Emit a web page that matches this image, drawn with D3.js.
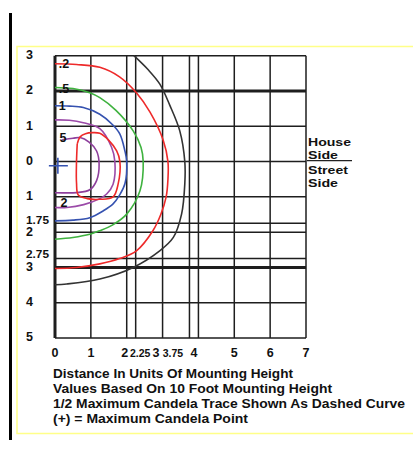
<!DOCTYPE html>
<html><head><meta charset="utf-8">
<script src="https://cdn.jsdelivr.net/npm/d3@7"></script>
<style>html,body{margin:0;padding:0;background:#fff;}svg{display:block;}text{font-family:"Liberation Sans",Arial,sans-serif;font-weight:bold;fill:#111;}</style>
</head><body>
<svg id="c" width="413" height="459"></svg>
<script>
// ---- data ----
const xTicks = [0, 1, 2, 2.25, 3, 3.75, 4, 5, 6, 7];
const xTickLabels = ["0", "1", "2", "2.25", "3", "3.75", "4", "5", "6", "7"];
const yTicks = [3, 2, 1, 0, -1, -1.75, -2, -2.75, -3, -4, -5];
const yTickLabels = ["3", "2", "1", "0", "1", "1.75", "2", "2.75", "3", "4", "5"];
const thickX = [0];
const thickY = [2, -3];

const curveBlack = [[2.2,3.0],[2.6,2.6],[2.92,2.2],[3.2,1.6],[3.48,0.87],[3.62,0],[3.62,-0.63],[3.53,-1.49],[3.3,-2.15],[2.92,-2.53],[2.18,-3.0],[1.25,-3.33],[0.33,-3.47],[0,-3.49]];
const curveRed02 = [[0,2.77],[0.6,2.75],[1.25,2.67],[1.8,2.4],[2.27,1.95],[2.65,1.4],[3.02,0.6],[3.15,0],[3.15,-0.5],[3.1,-1.0],[2.95,-1.5],[2.73,-1.96],[2.27,-2.53],[1.8,-2.75],[1.25,-2.9],[0.6,-3.0],[0,-3.03]];
const curveGreen05 = [[0,2.1],[0.5,2.07],[0.97,1.95],[1.25,1.81],[1.7,1.45],[2.18,0.87],[2.4,0.4],[2.46,0],[2.37,-0.83],[2.0,-1.49],[1.6,-1.8],[1.25,-1.96],[0.97,-2.06],[0.5,-2.15],[0,-2.2]];
const curveBlue1 = [[0,1.58],[0.4,1.57],[0.79,1.53],[1.25,1.34],[1.6,1.05],[1.81,0.78],[1.95,0.3],[2.0,0],[1.95,-0.63],[1.8,-0.95],[1.62,-1.2],[1.34,-1.4],[0.97,-1.59],[0.5,-1.66],[0,-1.68]];
const curvePurple2 = [[0,1.18],[0.4,1.17],[0.79,1.1],[1.25,0.93],[1.58,0.4],[1.67,0],[1.62,-0.64],[1.44,-0.92],[1.25,-1.05],[0.8,-1.22],[0.33,-1.3],[0,-1.3]];
const curveMagenta5 = [[0.2,0.62],[0.5,0.66],[0.7,0.68],[0.95,0.55],[1.16,0.3],[1.23,-0.07],[1.16,-0.54],[0.97,-0.8],[0.6,-0.88],[0,-0.88]];
const curveRedInner = [[0.62,0.5],[0.7,0.7],[0.85,0.79],[1.05,0.82],[1.25,0.8],[1.5,0.6],[1.72,0.3],[1.81,0],[1.76,-0.64],[1.62,-1.0],[1.25,-1.07],[0.9,-1.05],[0.65,-0.95],[0.6,-0.6],[0.6,0],[0.62,0.5]];

const curveLabels = [".2", ".5", "1", "5", "2"];
const curveLabelPts = [[0.25,2.77],[0.25,2.07],[0.2,1.58],[0.22,0.68],[0.25,-1.17]];
const maxPoint = [0.08, -0.12];

const sideLabels = ["House", "Side", "Street", "Side"];
const notes = ["Distance In Units Of Mounting Height", "Values Based On 10 Foot Mounting Height", "1/2 Maximum Candela Trace Shown As Dashed Curve", "(+) = Maximum Candela Point"];

// ---- drawing ----
const svg = d3.select("#c");
const x = d3.scaleLinear().domain([0, 7]).range([55, 306]);
const y = d3.scaleLinear().domain([-5, 3]).range([338, 55.7]);

// left black bar & yellow frame
svg.append("line").attr("x1",10.5).attr("x2",10.5).attr("y1",13).attr("y2",440).attr("stroke","#000").attr("stroke-width",3);
svg.append("rect").attr("x",17).attr("y",46.5).attr("width",420).attr("height",387).attr("fill","#fff").attr("stroke","#ffff88").attr("stroke-width",1.5);

const grid = svg.append("g");
grid.selectAll("line.v").data(xTicks).join("line")
  .attr("x1", d => x(d)).attr("x2", d => x(d)).attr("y1", y(3)).attr("y2", y(-5))
  .attr("stroke", "#1e1e1e").attr("stroke-width", d => thickX.includes(d) ? 3 : 1.5);
grid.selectAll("line.h").data(yTicks).join("line")
  .attr("x1", x(0)).attr("x2", x(7)).attr("y1", d => y(d)).attr("y2", d => y(d))
  .attr("stroke", "#1e1e1e").attr("stroke-width", d => thickY.includes(d) ? 3 : 1.5);

// curves
const line = d3.line().x(d => x(d[0])).y(d => y(d[1])).curve(d3.curveCatmullRom.alpha(0.5));
const curves = [
  [curveBlack, "#333"], [curveRed02, "#ee2a2a"], [curveGreen05, "#3fb23f"],
  [curveBlue1, "#3552b0"], [curvePurple2, "#9b4aa8"], [curveMagenta5, "#8e3f9c"], [curveRedInner, "#ee2a2a"]
];
svg.append("g").selectAll("path").data(curves).join("path")
  .attr("d", d => line(d[0])).attr("fill","none").attr("stroke", d => d[1]).attr("stroke-width", 1.6);

// curve labels
svg.append("g").selectAll("text").data(curveLabels).join("text")
  .attr("x", (d,i) => x(curveLabelPts[i][0])).attr("y", (d,i) => y(curveLabelPts[i][1]))
  .attr("dy","0.35em").attr("text-anchor","middle").attr("font-size",12.5).text(d => d);

// max candela point
svg.append("g").selectAll("path").data([maxPoint]).join("path")
  .attr("d", d => `M${x(d[0])-9},${y(d[1])}H${x(d[0])+10}M${x(d[0])},${y(d[1])-8}V${y(d[1])+8}`)
  .attr("stroke","#3552b0").attr("stroke-width",1.6).attr("fill","none");

// y tick labels
const yLabelShift = {"1.75": -2.5, "2": 0, "2.75": -3, "3": 0};
svg.append("g").selectAll("text").data(yTicks).join("text")
  .attr("x", 26).attr("y", (d,i) => y(d) - 1 + (i > 4 ? (yLabelShift[yTickLabels[i]] || 0) : 0))
  .attr("dy","0.35em").attr("font-size", (d,i) => yTickLabels[i].length > 1 ? 11 : 12.5)
  .attr("textLength", (d,i) => yTickLabels[i].length > 1 ? 23 : null).attr("lengthAdjust","spacingAndGlyphs")
  .text((d,i) => yTickLabels[i]);

// x tick labels
const xLabelShift = {"2": -2, "2.25": 4.5, "3": -6.5, "3.75": -16.5, "4": -4.5};
svg.append("g").selectAll("text").data(xTicks).join("text")
  .attr("x", (d,i) => x(d) + (xLabelShift[xTickLabels[i]] || 0)).attr("y", 353).attr("dy","0.35em")
  .attr("text-anchor","middle").attr("font-size", (d,i) => xTickLabels[i].length > 1 ? 10.5 : 12.5)
  .text((d,i) => xTickLabels[i]);

// side labels
const sideY = [146, 158.5, 174, 186.5];
svg.append("g").selectAll("text").data(sideLabels).join("text")
  .attr("x", 308).attr("y", (d,i) => sideY[i]).attr("font-size",11)
  .attr("textLength", d => d === "House" ? 43 : d === "Street" ? 40 : 30).attr("lengthAdjust","spacingAndGlyphs")
  .text(d => d);
svg.append("line").attr("x1",307).attr("x2",352).attr("y1",160.7).attr("y2",160.7).attr("stroke","#222").attr("stroke-width",1.3);

// notes
const noteW = [240, 279, 352, 195];
svg.append("g").selectAll("text").data(notes).join("text")
  .attr("x", 53).attr("y", (d,i) => 377.5 + i * 15.2).attr("font-size",13)
  .attr("textLength", (d,i) => noteW[i]).attr("lengthAdjust","spacingAndGlyphs")
  .text(d => d);
</script>
</body></html>
